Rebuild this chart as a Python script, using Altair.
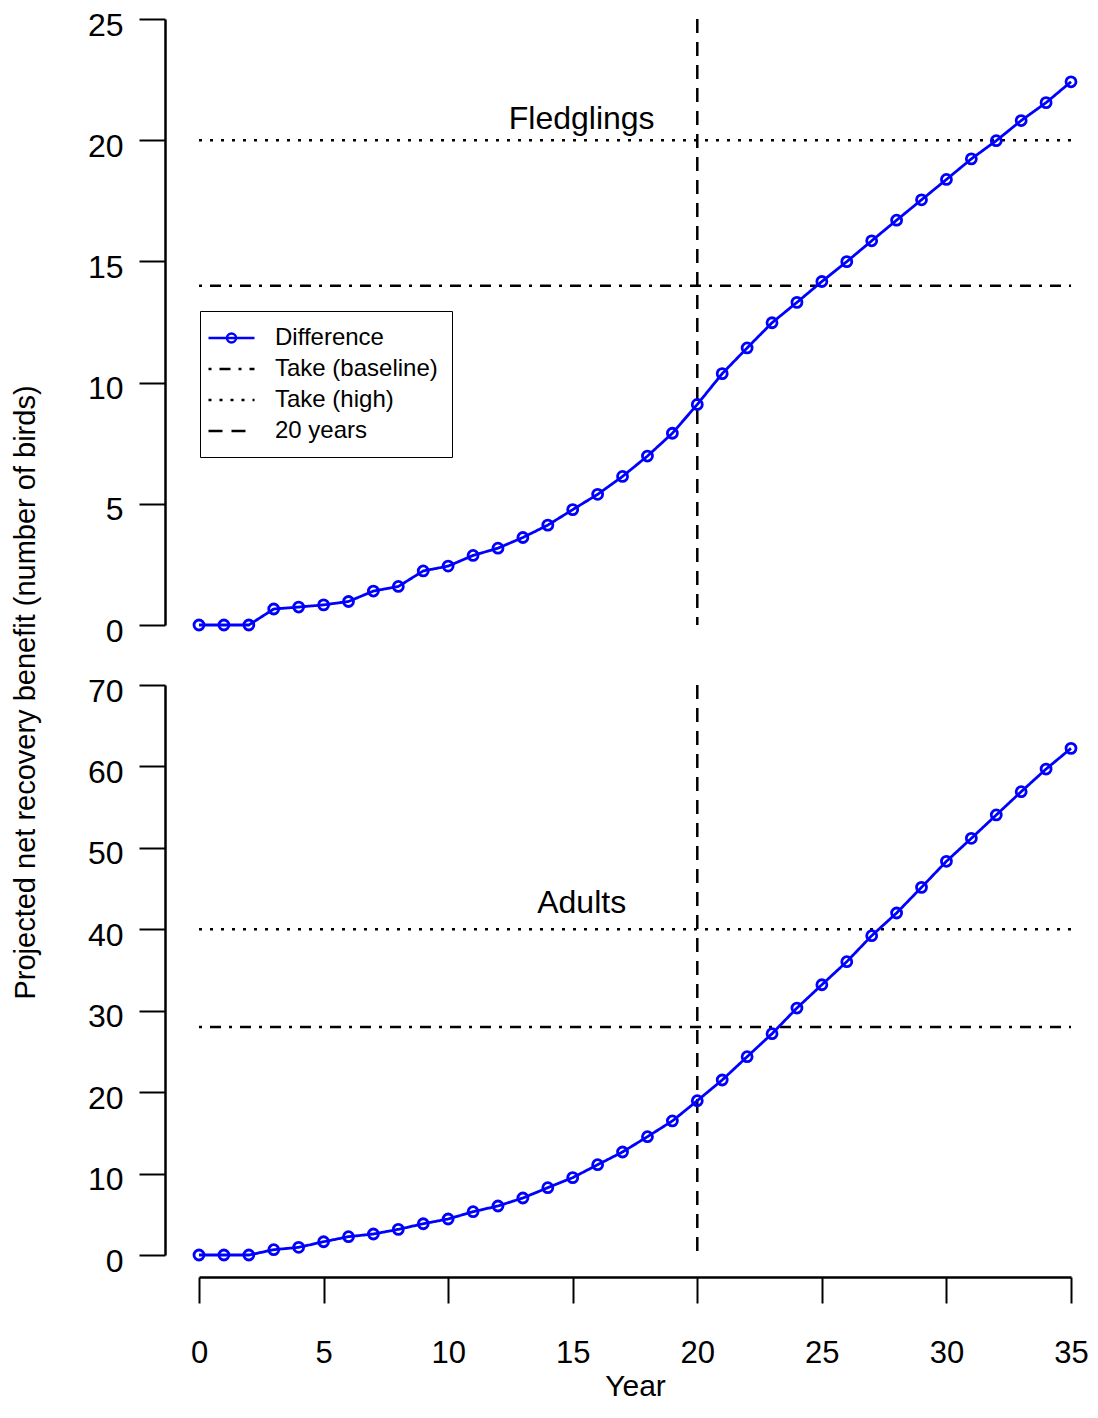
import altair as alt
import pandas as pd

FONT = "Liberation Sans"

years = list(range(36))
fledglings = [0, 0, 0, 0.66, 0.74, 0.83, 0.97, 1.40, 1.59, 2.23, 2.43, 2.87, 3.17, 3.61,
              4.12, 4.76, 5.39, 6.13, 6.97, 7.91, 9.10, 10.37, 11.43, 12.47, 13.31, 14.17,
              14.99, 15.85, 16.70, 17.54, 18.38, 19.23, 19.98, 20.81, 21.55, 22.41]
adults = [0, 0, 0, 0.65, 0.94, 1.63, 2.25, 2.58, 3.15, 3.84, 4.42, 5.32, 6.02, 7.00,
          8.27, 9.50, 11.09, 12.65, 14.53, 16.46, 18.95, 21.49, 24.35, 27.18, 30.33, 33.19,
          36.02, 39.21, 42.00, 45.15, 48.35, 51.17, 54.04, 56.90, 59.68, 62.22]
take_baseline = [14, 28]
take_high = [20, 40]
milestone_year = 20
panel_labels = ["Fledglings", "Adults"]
y_max = [25, 70]
y_ticks = [[0, 5, 10, 15, 20, 25], [0, 10, 20, 30, 40, 50, 60, 70]]
x_ticks = [0, 5, 10, 15, 20, 25, 30, 35]

series_names = ["Difference", "Take (baseline)", "Take (high)", "20 years"]
series_colors = ["#0000ff", "black", "black", "black"]
series_dashes = [[1, 0], [3, 8, 11, 8], [3, 8], [14, 9]]

BLUE = "#0000ff"
W = 872
HEIGHTS = [606, 570]

line_path = "M-1,0H3"
circle_path = "M0.61,0A0.39,0.39 0 1,1 1.39,0A0.39,0.39 0 1,1 0.61,0"

LEG_COMMON = dict(
    title=None, orient="none", legendX=1, legendY=292, direction="vertical",
    symbolSize=529, symbolStrokeWidth=2.5, symbolFillColor="transparent",
    symbolOffset=-7, symbolOpacity=1,
    labelFont=FONT, labelFontSize=24, labelOffset=42, labelLimit=400,
    padding=14, rowPadding=6,
)


def legend_lines():
    return alt.Legend(**LEG_COMMON, symbolType=line_path, labelColor="black",
                      strokeColor="black", fillColor="white", zindex=0)


def legend_marker():
    return alt.Legend(**LEG_COMMON, labelColor="black", labelOpacity=0,
                      symbolStrokeColor=BLUE, zindex=1)


def panel(i):
    values = fledglings if i == 0 else adults
    show_legend = i == 0
    bottom = i == 1

    df = pd.DataFrame({"year": years, "value": values, "series": series_names[0]})
    hdf = pd.DataFrame({"series": [series_names[1], series_names[2]],
                        "y": [take_baseline[i], take_high[i]],
                        "x0": [years[0]] * 2, "x1": [years[-1]] * 2})
    vdf = pd.DataFrame({"series": [series_names[3]], "x": [milestone_year]})

    xscale = alt.Scale(domain=[0, 35], nice=False, zero=False)
    yscale = alt.Scale(domain=[0, y_max[i]], nice=False)

    if bottom:
        xaxis = alt.Axis(values=x_ticks, offset=22, tickSize=26, tickWidth=2, domainWidth=2.5,
                         domainColor="black", tickColor="black", grid=False,
                         labelFont=FONT, labelFontSize=31, labelColor="black", labelPadding=35,
                         labelFlush=False, labelOverlap=False, labelBound=False,
                         title="Year", titleFont=FONT, titleFontSize=30, titleFontWeight="normal",
                         titleColor="black", titlePadding=3)
    else:
        xaxis = None

    common_y = dict(values=y_ticks[i], offset=34, tickSize=26, tickWidth=2, domainWidth=2.5,
                    domainColor="black", tickColor="black", grid=False,
                    labelFont=FONT, labelFontSize=32, labelColor="black", labelPadding=16,
                    labelOffset=6, labelFlush=False, labelOverlap=False)
    if i == 0:
        yaxis = alt.Axis(**common_y,
                         title="Projected net recovery benefit (number of birds)",
                         titleFont=FONT, titleFontSize=29, titleFontWeight="normal",
                         titleColor="black", titleAngle=270, titleAlign="center",
                         titleBaseline="middle", titleX=-140, titleY=673)
    else:
        yaxis = alt.Axis(**common_y, title=None)

    leg = legend_lines() if show_legend else None
    color = alt.Color("series:N", scale=alt.Scale(domain=series_names, range=series_colors),
                      legend=leg)
    dash = alt.StrokeDash("series:N", scale=alt.Scale(domain=series_names, range=series_dashes),
                          legend=leg)

    hrules = alt.Chart(hdf).mark_rule(strokeWidth=2.5).encode(
        x=alt.X("x0:Q", scale=xscale, axis=xaxis),
        x2="x1:Q",
        y=alt.Y("y:Q", scale=yscale, axis=yaxis),
        color=color, strokeDash=dash,
    )
    vrule = alt.Chart(vdf).mark_rule(strokeWidth=2.5).encode(
        x=alt.X("x:Q", scale=xscale),
        color=color, strokeDash=dash,
    )
    line = alt.Chart(df).mark_line(strokeWidth=2.8).encode(
        x=alt.X("year:Q", scale=xscale),
        y=alt.Y("value:Q", scale=yscale),
        color=color, strokeDash=dash,
    )
    pts = alt.Chart(df).mark_point(shape="circle", filled=False, size=100, strokeWidth=2.8,
                                   color=BLUE, opacity=1).encode(
        x=alt.X("year:Q", scale=xscale),
        y=alt.Y("value:Q", scale=yscale),
    )
    label_x = 15.36
    label_y = [20.87, 43.25][i]
    txt = alt.Chart(pd.DataFrame({"label": [panel_labels[i]]})).mark_text(
        font=FONT, fontSize=32, color="black", align="center", baseline="middle"
    ).encode(
        x=alt.X(datum=label_x, scale=xscale),
        y=alt.Y(datum=label_y, scale=yscale),
        text="label:N",
    )
    layers = [hrules, vrule, line, pts, txt]
    if show_legend:
        ghost = alt.Chart(df).mark_point(opacity=0, filled=False, color=BLUE).encode(
            x=alt.X("year:Q", scale=xscale),
            y=alt.Y("value:Q", scale=yscale),
            shape=alt.Shape("series:N",
                            scale=alt.Scale(domain=[series_names[0]], range=[circle_path]),
                            legend=legend_marker()),
        )
        layers.append(ghost)
    return alt.layer(*layers).properties(width=W, height=HEIGHTS[i])


chart = alt.vconcat(panel(0), panel(1), spacing=60, bounds="flush").resolve_scale(
    color="independent", strokeDash="independent", shape="independent"
).properties(
    padding={"left": 2, "top": 0, "right": 0, "bottom": 0}
).configure(
    background="white", view=alt.ViewConfig(stroke="transparent")
)

chart.save("out.html", embed_options={"renderer": "svg", "actions": False})
